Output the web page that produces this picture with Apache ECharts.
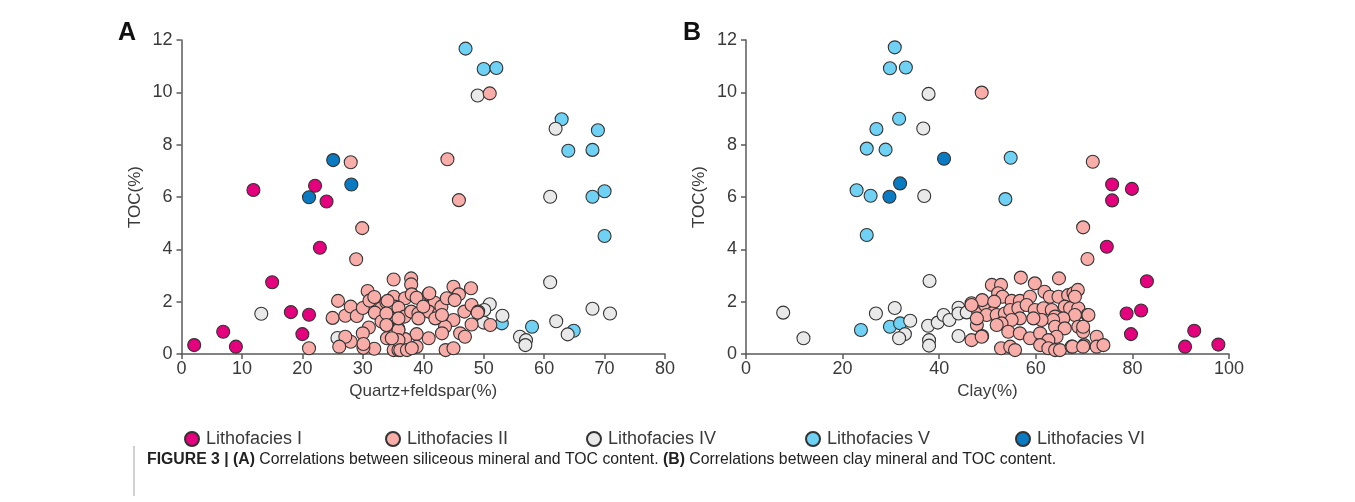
<!DOCTYPE html>
<html>
<head>
<meta charset="utf-8">
<script src="https://cdn.jsdelivr.net/npm/echarts@6/dist/echarts.min.js"></script>
<style>
html,body{margin:0;padding:0;background:#fff;}
#chart{width:1355px;height:502px;}
</style>
</head>
<body>
<div id="chart"></div>
<script>
// ---------- Data ----------
var seriesNames = ['Lithofacies I', 'Lithofacies II', 'Lithofacies IV', 'Lithofacies V', 'Lithofacies VI'];
var seriesColors = ['#E5007D', '#F8ADA9', '#E9E9E9', '#6FD2F4', '#0A7BC2'];
var xTicksA = [0, 10, 20, 30, 40, 50, 60, 70, 80];
var xTicksB = [0, 20, 40, 60, 80, 100];
var yTicks = [0, 2, 4, 6, 8, 10, 12];

// Panel A: Quartz+feldspar(%) vs TOC(%)
var aLithoI = [[2.1,0.34],[6.9,0.85],[9.0,0.28],[11.9,6.27],[15.0,2.74],[18.1,1.6],[20.0,0.76],[21.1,1.5],[22.1,6.43],[24.0,5.83],[22.9,4.06]];
var aLithoII = [[28.0,7.33],[51.0,9.96],[44.0,7.44],[45.9,5.88],[29.9,4.81],[28.9,3.62],[21.1,0.22],
 [25.9,2.03],[25.0,1.38],[27.1,1.46],[28.0,1.81],[29.0,1.45],[30.0,1.76],[30.8,2.41],[31.1,2.04],[31.9,2.18],[33.0,1.74],[32.0,1.58],[33.9,1.98],[34.1,1.58],[33.1,1.24],[31.0,1.01],[30.0,0.79],[34.0,1.10],[35.1,2.85],[35.1,2.19],[35.3,1.81],[35.6,0.60],[34.0,0.60],[35.1,0.15],[31.9,0.20],[30.1,0.24],[30.1,0.38],[28.0,0.47],[27.1,0.66],[26.1,0.28],[35.9,0.96],[35.9,0.15],
 [38.0,2.89],[38.0,2.66],[37.0,2.13],[38.1,2.28],[38.9,2.15],[34.1,2.03],[35.9,1.77],[33.9,1.55],[36.9,1.43],[38.0,1.62],[39.2,1.55],[40.9,2.28],[41.9,1.96],[40.9,1.62],[42.6,1.55],[40.0,1.81],[43.0,1.81],[43.9,2.13],[45.0,2.57],[45.9,2.28],[45.2,2.06],[47.9,2.51],[46.8,1.62],[48.0,1.87],[49.1,1.62],[51.1,1.11],[48.0,1.13],[45.0,1.30],[46.1,0.79],[46.9,0.66],[43.6,1.04],[43.1,0.79],[43.7,0.15],[45.0,0.22],[40.9,0.60],[38.9,0.76],[38.9,0.28],[37.0,0.57],[35.9,0.92],[35.9,0.53],[34.8,0.60],[36.2,0.15],[37.3,0.15],[38.1,0.22],[35.9,1.36],[39.2,1.36],[42.0,1.36],[43.1,1.49],[33.9,1.11],[41.0,2.32],[49.0,1.58]];
var aLithoIV = [[49.0,9.88],[61.9,8.61],[61.0,6.01],[61.0,2.74],[68.0,1.73],[70.9,1.55],[62.0,1.25],[63.9,0.75],[56.0,0.66],[57.0,0.53],[56.9,0.34],[51.0,1.90],[50.1,1.68],[50.0,1.20],[53.1,1.46],[13.2,1.54],[25.8,0.61]];
var aLithoV = [[47.0,11.67],[50.0,10.89],[52.1,10.93],[62.9,8.97],[68.9,8.55],[64.0,7.77],[68.0,7.80],[70.0,6.22],[68.0,6.01],[70.0,4.51],[53.0,1.17],[58.0,1.04],[64.9,0.89]];
var aLithoVI = [[25.1,7.41],[28.1,6.48],[21.1,5.99]];

// Panel B: Clay(%) vs TOC(%)
var bLithoI = [[75.8,6.48],[79.9,6.31],[75.8,5.87],[74.7,4.10],[83.0,2.78],[78.8,1.55],[81.8,1.66],[79.7,0.76],[92.8,0.89],[90.9,0.28],[97.8,0.36]];
var bLithoII = [[48.8,9.99],[71.8,7.35],[69.8,4.84],[70.7,3.63],
 [46.7,1.94],[47.8,1.75],[48.1,1.55],[49.5,1.87],[48.9,2.06],[50.9,2.64],[52.8,2.64],[52.2,2.32],[53.1,2.19],[51.4,2.0],[50.9,1.55],[49.8,1.49],[51.9,1.49],[53.6,1.55],[55.0,2.03],[56.9,2.92],[56.7,2.03],[58.8,2.19],[59.8,2.70],[61.8,2.38],[62.9,2.19],[64.8,2.89],[64.7,2.19],[66.7,2.25],[67.8,2.32],[68.7,2.45],[54.7,1.68],[56.4,1.75],[58.1,1.87],[59.8,1.68],[61.6,1.75],[63.3,1.68],[64.0,1.43],[66.0,1.81],[67.1,1.75],[68.8,1.75],[70.7,1.49],[68.1,1.49],[65.7,1.36],[63.6,1.30],[61.2,1.30],[59.5,1.36],[56.7,1.36],[55.0,1.30],[52.9,1.17],[51.9,1.11],[47.8,1.11],[54.3,0.85],[56.7,0.79],[58.8,0.60],[60.9,0.79],[64.0,1.04],[66.0,0.98],[68.8,1.04],[69.8,0.85],[64.3,0.66],[62.6,0.53],[60.9,0.34],[62.6,0.22],[64.0,0.15],[65.0,0.15],[67.4,0.28],[70.0,0.34],[72.6,0.66],[72.6,0.28],[74.0,0.34],[52.8,0.22],[54.7,0.28],[55.7,0.15],[46.7,0.53],[48.9,0.69],[47.8,1.36],[68.1,2.19],[70.9,1.49],[69.8,1.04],[67.6,0.28],[69.8,0.28],[48.8,0.66],[46.7,1.87]];
var bLithoIV = [[37.8,9.94],[36.7,8.62],[36.9,6.04],[38.0,2.79],[7.7,1.58],[11.9,0.60],[26.9,1.55],[30.8,1.76],[34.0,1.27],[32.9,0.76],[31.7,0.60],[37.7,1.08],[37.9,0.53],[37.9,0.32],[39.7,1.20],[40.9,1.49],[42.1,1.30],[44.0,1.77],[44.0,1.55],[44.0,0.69],[45.7,1.59]];
var bLithoV = [[30.8,11.72],[29.8,10.92],[33.1,10.95],[31.7,8.99],[27.0,8.60],[25.0,7.85],[28.9,7.81],[22.9,6.26],[25.8,6.05],[25.0,4.55],[23.8,0.92],[29.8,1.04],[31.9,1.17],[54.8,7.50],[53.7,5.92]];
var bLithoVI = [[41.0,7.46],[31.9,6.52],[29.7,6.01]];

// ---------- Build ----------
var dataA = [aLithoI, aLithoII, aLithoIV, aLithoV, aLithoVI];
var dataB = [bLithoI, bLithoII, bLithoIV, bLithoV, bLithoVI];
var drawOrder = [4, 3, 2, 1, 0];
var FONT = 'Liberation Sans, Arial, sans-serif';
var axisColor = '#5a5a5a';
var labelColor = '#3a3a3a';

function xAxisCfg(grid, ticks, name) {
  return {
    type: 'value', gridIndex: grid, min: ticks[0], max: ticks[ticks.length - 1],
    interval: ticks[1] - ticks[0],
    name: name, nameLocation: 'middle', nameGap: 21,
    nameTextStyle: { fontFamily: FONT, fontSize: 17, color: labelColor },
    axisLine: { show: true, lineStyle: { color: axisColor, width: 1.5 } },
    axisTick: { show: true, length: 5, lineStyle: { color: axisColor, width: 1.5 } },
    axisLabel: { fontFamily: FONT, fontSize: 18, color: labelColor, margin: 6 },
    splitLine: { show: false }
  };
}
function yAxisCfg(grid) {
  return {
    type: 'value', gridIndex: grid, min: yTicks[0], max: yTicks[yTicks.length - 1],
    interval: yTicks[1] - yTicks[0],
    name: 'TOC(%)', nameLocation: 'middle', nameGap: 38,
    nameTextStyle: { fontFamily: FONT, fontSize: 17, color: labelColor },
    axisLine: { show: true, lineStyle: { color: axisColor, width: 1.5 } },
    axisTick: { show: true, length: 5, lineStyle: { color: axisColor, width: 1.5 } },
    axisLabel: { fontFamily: FONT, fontSize: 18, color: labelColor, margin: 9 },
    splitLine: { show: false }
  };
}

var series = [];
[dataA, dataB].forEach(function (panel, gi) {
  drawOrder.forEach(function (k) {
    series.push({
      name: seriesNames[k], type: 'scatter', xAxisIndex: gi, yAxisIndex: gi,
      data: panel[k], symbol: 'circle', symbolSize: 13, z: 2 + (4 - k),
      itemStyle: { color: seriesColors[k], borderColor: '#333', borderWidth: 1.1, opacity: 1 },
      emphasis: { disabled: true }
    });
  });
});

var legendLefts = [179, 380, 581, 800, 1010];
var legends = seriesNames.map(function (nm, i) {
  return {
    data: [nm], left: legendLefts[i], top: 425, itemWidth: 14, itemHeight: 14,
    icon: 'circle', itemGap: 0,
    textStyle: { fontFamily: FONT, fontSize: 18, color: labelColor, padding: [0, 0, 0, 2] }
  };
});

var chart = echarts.init(document.getElementById('chart'), null, { renderer: 'canvas' });
chart.setOption({
  backgroundColor: '#ffffff',
  animation: false,
  grid: [
    { left: 181.5, right: 690, top: 40, bottom: 148 },
    { left: 746, right: 126, top: 40, bottom: 148 }
  ],
  xAxis: [xAxisCfg(0, xTicksA, 'Quartz+feldspar(%)'), xAxisCfg(1, xTicksB, 'Clay(%)')],
  yAxis: [yAxisCfg(0), yAxisCfg(1)],
  legend: legends,
  graphic: [
    { type: 'text', left: 118, top: 21, style: { text: 'A', font: 'bold 25px ' + FONT, fill: '#111' } },
    { type: 'text', left: 683, top: 21, style: { text: 'B', font: 'bold 25px ' + FONT, fill: '#111' } },
    { type: 'rect', shape: { x: 133, y: 446, width: 2, height: 50 }, style: { fill: '#d0d0d0' } },
    { type: 'text', left: 147, top: 452, style: {
        text: '{b|FIGURE 3 | (A)} Correlations between siliceous mineral and TOC content. {b|(B)} Correlations between clay mineral and TOC content.',
        font: '15.8px ' + FONT, fill: '#222',
        rich: { b: { fontWeight: 'bold', fontSize: 15.8, fontFamily: FONT, fill: '#222' } }
    } }
  ],
  series: series
});
</script>
</body>
</html>
